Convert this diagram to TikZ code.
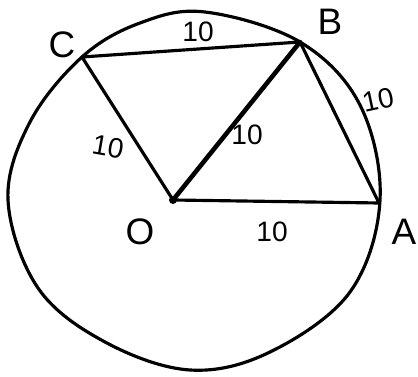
\documentclass[tikz,border=0pt]{standalone}
\usepackage{fontspec}
\setmainfont{Liberation Sans}
\begin{document}
\begin{tikzpicture}[
    x=0.02cm, y=-0.02cm,
    line width=1.8pt, line join=round, line cap=round,
    every node/.style={inner sep=0pt},
    pointlabel/.style={font=\fontsize{21}{24}\selectfont},
    sidelabel/.style={font=\fontsize{16}{18}\selectfont}
]
    \useasboundingbox (0,0) rectangle (418,377);

    % centre and the three points on the circle
    \coordinate (O) at (173,200);
    \coordinate (A) at (379,203);
    \coordinate (B) at (300,42);
    \coordinate (C) at (82,57);

    % the circle, drawn freehand
    \draw plot[smooth cycle, tension=0.6] coordinates {
        (205,12) (300,42) (360,105) (380,200) (350,292) (270,352)
        (190,370) (105,342) (38,288) (8,200) (30,122) (82,57) (140,23)};

    % chords and radii
    \draw (C) -- (B) -- (A) -- (O) -- (C);
    \draw[line width=2.6pt] (O) -- (B);
    \fill (O) circle (4);

    % point labels
    \node[pointlabel] (lblO) at (140,232) {O};
    \node[pointlabel] (lblA) at (404,232) {A};
    \node[pointlabel] (lblB) at (330,22)  {B};
    \node[pointlabel] (lblC) at (62,45)   {C};

    % lengths
    \node[sidelabel]             (lenCB) at (198,32)  {10};
    \node[sidelabel, rotate=12]  (lenAB) at (378,100) {10};
    \node[sidelabel, rotate=-10] (lenOC) at (108,147) {10};
    \node[sidelabel]             (lenOB) at (247,135) {10};
    \node[sidelabel]             (lenOA) at (272,232) {10};
\end{tikzpicture}
\end{document}
